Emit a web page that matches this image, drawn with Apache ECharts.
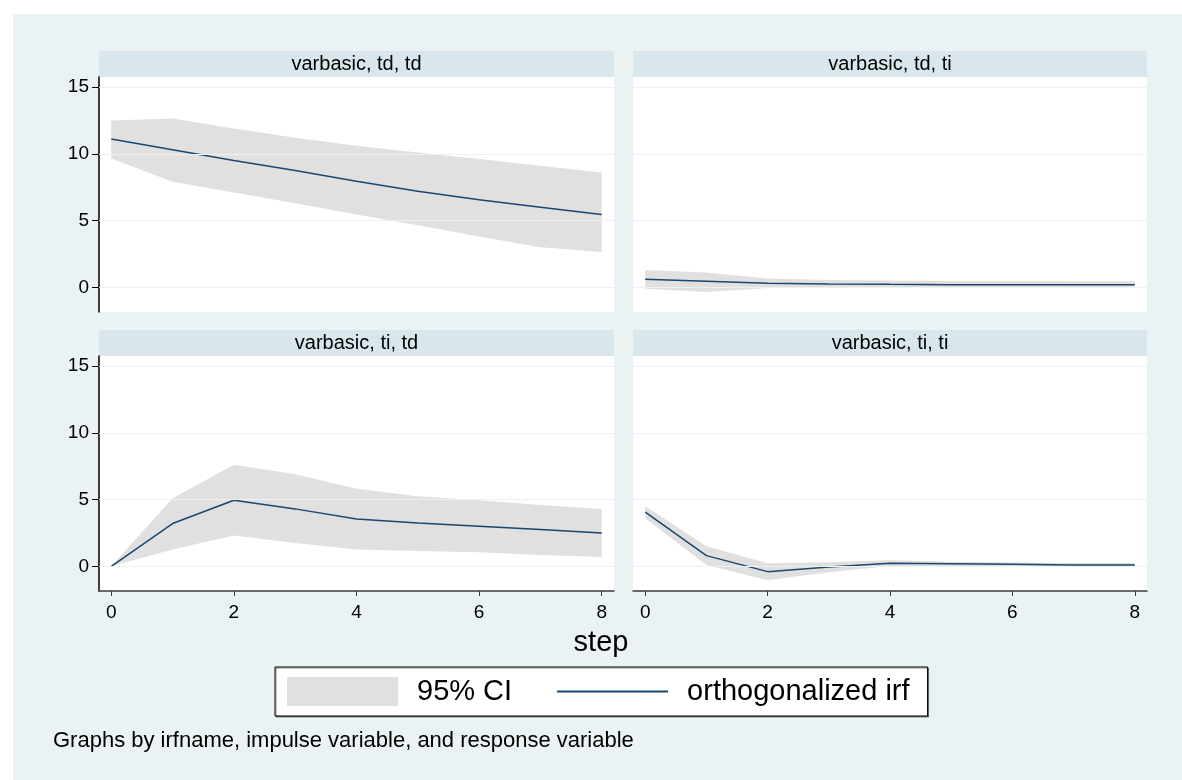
<!DOCTYPE html>
<html>
<head>
<meta charset="utf-8">
<script src="https://cdn.jsdelivr.net/npm/echarts@6/dist/echarts.min.js"></script>
<style>
  html, body { margin: 0; padding: 0; background: #fff; }
  #chart { width: 1182px; height: 780px; }
</style>
</head>
<body>
<div id="chart"></div>
<script>
// steps of the impulse response
var steps = [0, 1, 2, 3, 4, 5, 6, 7, 8]
var panelTitles = ['varbasic, td, td', 'varbasic, td, ti', 'varbasic, ti, td', 'varbasic, ti, ti']

// orthogonalized irf + 95% CI, one set per panel
var irfTdTd = [11.1, 10.3, 9.5, 8.75, 7.95, 7.2, 6.55, 6.0, 5.45]
var loTdTd = [9.65, 7.9, 7.1, 6.3, 5.45, 4.65, 3.8, 3.0, 2.65]
var hiTdTd = [12.5, 12.65, 11.9, 11.2, 10.6, 10.1, 9.6, 9.1, 8.6]

var irfTdTi = [0.6, 0.45, 0.3, 0.25, 0.22, 0.2, 0.2, 0.2, 0.2]
var loTdTi = [-0.1, -0.35, -0.05, 0.0, 0.02, 0.03, 0.03, 0.03, 0.03]
var hiTdTi = [1.3, 1.1, 0.65, 0.55, 0.5, 0.48, 0.47, 0.46, 0.45]

var irfTiTd = [0, 3.2, 4.95, 4.3, 3.55, 3.25, 3.0, 2.75, 2.5]
var loTiTd = [0, 1.25, 2.3, 1.75, 1.25, 1.15, 1.05, 0.85, 0.7]
var hiTiTd = [0, 5.1, 7.6, 6.9, 5.8, 5.25, 4.95, 4.6, 4.3]

var irfTiTi = [4.05, 0.8, -0.4, -0.05, 0.22, 0.2, 0.15, 0.1, 0.1]
var loTiTi = [3.6, 0.1, -1.05, -0.45, 0.02, 0.0, -0.05, -0.05, -0.05]
var hiTiTi = [4.5, 1.5, 0.22, 0.3, 0.45, 0.35, 0.3, 0.25, 0.25]

var yTicks = [0, 5, 10, 15]
var xTicks = [0, 2, 4, 6, 8]

var irfs = [irfTdTd, irfTdTi, irfTiTd, irfTiTi]
var lows = [loTdTd, loTdTi, loTiTd, loTiTi]
var highs = [hiTdTd, hiTdTi, hiTiTd, hiTiTi]

// layout of the 4 panels (left, top of plot area)
var panels = [
  { left: 99, top: 77, width: 515 },
  { left: 633, top: 77, width: 514 },
  { left: 99, top: 356, width: 515 },
  { left: 633, top: 356, width: 514 }
]
var plotHeight = 235
var stripHeight = 26
var font = '"Liberation Sans", Arial, sans-serif'
var bandColor = '#E0E0E0'
var lineColor = '#1A476F'

function pairs(arr) {
  return steps.map(function (s, i) { return [s, arr[i]] })
}

// CI band as one polygon: upper edge forward, lower edge back
function bandRenderer(k) {
  return function (params, api) {
    if (params.dataIndex !== 0) return
    var pts = []
    for (var i = 0; i < steps.length; i++) pts.push(api.coord([steps[i], highs[k][i]]))
    for (var j = steps.length - 1; j >= 0; j--) pts.push(api.coord([steps[j], lows[k][j]]))
    return { type: 'polygon', shape: { points: pts }, style: { fill: bandColor } }
  }
}

var grids = [], xAxes = [], yAxes = [], series = []
var graphics = [{
  type: 'rect', z: -10,
  shape: { x: 13, y: 14, width: 1169, height: 766 },
  style: { fill: '#EAF2F3' }
}]

panels.forEach(function (p, k) {
  var bottomRow = k >= 2
  var leftCol = k % 2 === 0
  grids.push({
    left: p.left, top: p.top, width: p.width, height: plotHeight,
    show: true, backgroundColor: '#fff', borderWidth: 0
  })
  xAxes.push({
    gridIndex: k, type: 'value', min: -0.2, max: 8.2,
    show: bottomRow,
    axisLine: { show: true, onZero: false, lineStyle: { color: '#3c3c3c', width: 1.5 } },
    axisTick: { show: true, length: 5, customValues: xTicks, lineStyle: { color: '#3c3c3c' } },
    axisLabel: { customValues: xTicks, fontSize: 19, margin: 12, color: '#000', fontFamily: font },
    splitLine: { show: false }
  })
  yAxes.push({
    gridIndex: k, type: 'value', min: -1.85, max: 15.75,
    show: leftCol,
    axisLine: { show: true, onZero: false, lineStyle: { color: '#000', width: 1.5 } },
    axisTick: { show: true, length: 7, customValues: yTicks, lineStyle: { color: '#000' } },
    axisLabel: { customValues: yTicks, fontSize: 19, margin: 10, color: '#000', fontFamily: font },
    splitLine: { show: false }
  })
  series.push({
    name: 'grid' + k, type: 'line', xAxisIndex: k, yAxisIndex: k,
    data: [], z: 0, silent: true,
    markLine: {
      silent: true, symbol: ['none', 'none'], label: { show: false },
      lineStyle: { color: '#EAF2F3', width: 1.2, type: 'solid' },
      data: yTicks.map(function (v) { return { yAxis: v } })
    }
  })
  series.push({
    name: '95% CI', type: 'custom', xAxisIndex: k, yAxisIndex: k,
    data: steps.map(function (s, i) { return [s, lows[k][i], highs[k][i]] }),
    encode: { x: 0, y: [1, 2] },
    itemStyle: { color: bandColor },
    renderItem: bandRenderer(k), silent: true, z: 1
  })
  series.push({
    name: 'orthogonalized irf', type: 'line', xAxisIndex: k, yAxisIndex: k,
    data: pairs(irfs[k]), symbol: 'none',
    itemStyle: { color: lineColor },
    lineStyle: { color: lineColor, width: 1.5 }, z: 3
  })
  graphics.push({
    type: 'rect',
    shape: { x: p.left, y: p.top - stripHeight, width: p.width, height: stripHeight },
    style: { fill: '#D9E6EB' }
  })
  graphics.push({
    type: 'text',
    x: p.left + p.width / 2, y: p.top - stripHeight / 2,
    style: { text: panelTitles[k], font: '20px ' + font, fill: '#000', textAlign: 'center', textVerticalAlign: 'middle' }
  })
})

graphics.push({
  type: 'text', x: 601, y: 643,
  style: { text: 'step', font: '29px ' + font, fill: '#000', textAlign: 'center', textVerticalAlign: 'middle' }
})
graphics.push({
  type: 'text', x: 53, y: 741,
  style: { text: 'Graphs by irfname, impulse variable, and response variable', font: '22px ' + font, fill: '#000', textAlign: 'left', textVerticalAlign: 'middle' }
})

var chart = echarts.init(document.getElementById('chart'))
chart.setOption({
  backgroundColor: '#fff',
  animation: false,
  grid: grids,
  xAxis: xAxes,
  yAxis: yAxes,
  legend: {
    data: [
      { name: '95% CI', icon: 'rect', itemStyle: { color: bandColor } },
      { name: 'orthogonalized irf', itemStyle: { opacity: 0 }, lineStyle: { color: lineColor, width: 2 } }
    ],
    left: 275, top: 667,
    orient: 'horizontal',
    backgroundColor: '#fff',
    borderColor: '#000',
    borderWidth: 1,
    borderRadius: 0,
    shadowColor: 'rgba(0,0,0,0.45)',
    shadowOffsetX: 1,
    shadowOffsetY: 1,
    padding: [10, 18, 10, 12],
    itemWidth: 111,
    itemHeight: 29,
    itemGap: 44,
    selectedMode: false,
    textStyle: { fontSize: 29, fontFamily: font, color: '#000', padding: [0, 0, 0, 14] }
  },
  graphic: graphics,
  series: series
})
</script>
</body>
</html>
